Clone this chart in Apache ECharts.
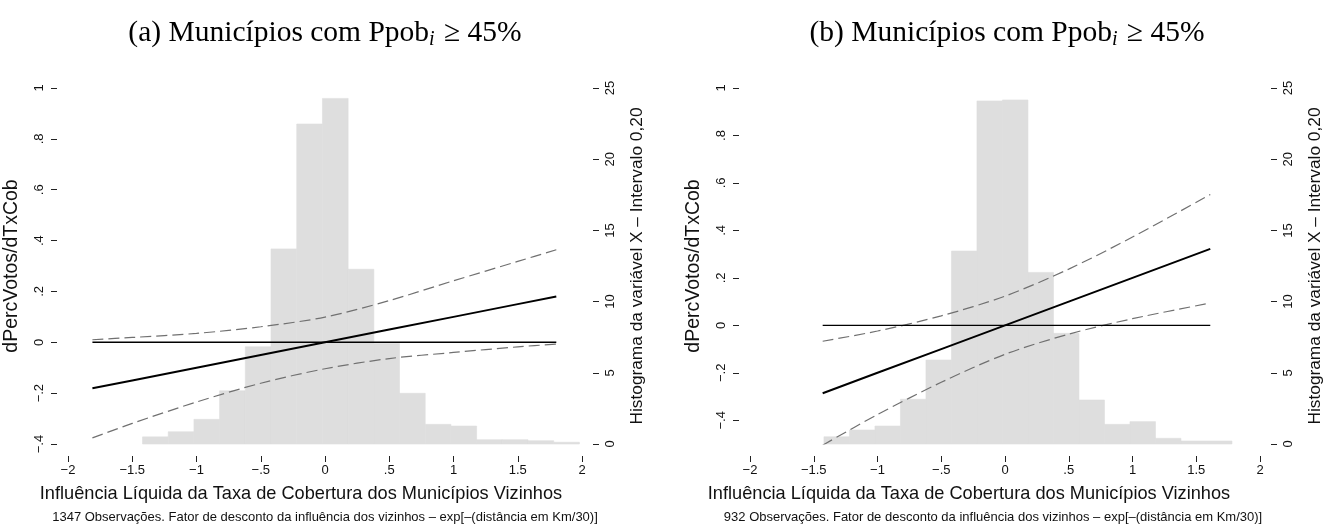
<!DOCTYPE html>
<html>
<head>
<meta charset="utf-8">
<script src="https://cdn.jsdelivr.net/npm/echarts@6/dist/echarts.min.js"></script>
<style>
html,body{margin:0;padding:0;background:#fff;}
#chart{width:1325px;height:527px;}
</style>
</head>
<body>
<div id="chart"></div>
<script>
// ---------- DATA ----------
// Panel (a)
const histLeftEdgesA = [-1.42,-1.22,-1.02,-0.82,-0.62,-0.42,-0.22,-0.02,0.18,0.38,0.58,0.78,0.98,1.18,1.38,1.58,1.78];
const histPctA       = [0.5,0.86,1.73,3.74,6.83,13.7,22.47,24.27,12.27,7.05,3.56,1.38,1.26,0.3,0.3,0.23,0.12];
const lineXA   = [-1.81,-1.5,-1,-0.5,0,0.5,1,1.5,1.8];
const effectA  = [-0.181,-0.15,-0.1,-0.05,0,0.05,0.1,0.15,0.18];
const upperA   = [0.010,0.019,0.035,0.061,0.099,0.164,0.242,0.318,0.364];
const lowerA   = [-0.376,-0.319,-0.235,-0.161,-0.104,-0.064,-0.040,-0.018,-0.007];
const zeroXA   = [-1.81,1.8];

// Panel (b)
const histLeftEdgesB = [-1.42,-1.22,-1.02,-0.82,-0.62,-0.42,-0.22,-0.02,0.18,0.38,0.58,0.78,0.98,1.18,1.38,1.58];
const histPctB       = [0.51,0.98,1.26,3.14,5.9,13.55,24.09,24.16,12.05,7.77,3.09,1.38,1.57,0.4,0.21,0.21];
const lineXB   = [-1.43,-1,-0.5,0,0.5,1,1.61];
const effectB  = [-0.286,-0.2,-0.1,0,0.1,0.2,0.322];
const upperB   = [-0.067,-0.024,0.040,0.123,0.237,0.372,0.551];
const lowerB   = [-0.505,-0.376,-0.240,-0.122,-0.037,0.028,0.094];
const zeroXB   = [-1.43,1.61];

const binWidth = 0.2;
const xTicks = [-2,-1.5,-1,-0.5,0,0.5,1,1.5,2];
const yLeftTicks = [-0.4,-0.2,0,0.2,0.4,0.6,0.8,1];
const yRightTicks = [0,5,10,15,20,25];

const titleA = '(a) Municípios com Ppob';
const titleB = '(b) Municípios com Ppob';
const titleSuffix = ' ≥ 45%';
const xTitle = 'Influência Líquida da Taxa de Cobertura dos Municípios Vizinhos';
const yTitle = 'dPercVotos/dTxCob';
const y2Title = 'Histograma da variável X – Intervalo 0,20';
const noteA = '1347 Observações. Fator de desconto da influência dos vizinhos – exp[–(distância em Km/30)]';
const noteB = '932 Observações. Fator de desconto da influência dos vizinhos – exp[–(distância em Km/30)]';

// ---------- HELPERS ----------
const SANS = '"Liberation Sans", Arial, sans-serif';
function fmt(v){
  if (Math.abs(v) < 1e-9) return '0';
  let s = String(Math.round(Math.abs(v)*10)/10);
  if (s.startsWith('0.')) s = s.slice(1);
  return (v < 0 ? '−' : '') + s;
}
function zip(xs, ys){ return xs.map((x,i)=>[x, ys[i]]); }
function histData(edges, vals){ return edges.map((e,i)=>[e, e+binWidth, vals[i]]); }

const tickStyle = {show:true, inside:false, length:6, lineStyle:{color:'#222', width:1}};
function xAxis(grid){
  return {type:'value', gridIndex:grid, min:-2, max:2, position:'bottom', offset:12,
    axisLine:{show:false, onZero:false}, splitLine:{show:false},
    axisTick:Object.assign({}, tickStyle, {customValues:xTicks}),
    axisLabel:{customValues:xTicks, formatter:fmt, fontSize:13, color:'#111', fontFamily:SANS, margin:8}};
}
function yLeft(grid, min){
  return {type:'value', gridIndex:grid, min:min, max:1, position:'left', offset:11,
    axisLine:{show:false, onZero:false}, splitLine:{show:false},
    axisTick:Object.assign({}, tickStyle, {customValues:yLeftTicks}),
    axisLabel:{customValues:yLeftTicks, formatter:fmt, rotate:90, fontSize:13, color:'#111', fontFamily:SANS, margin:11},
    name:yTitle, nameLocation:'middle', nameRotate:90, nameGap:35,
    nameTextStyle:{fontSize:19.5, color:'#111', fontFamily:SANS}};
}
function yRight(grid){
  return {type:'value', gridIndex:grid, min:0, max:25, position:'right', offset:11,
    axisLine:{show:false, onZero:false}, splitLine:{show:false},
    axisTick:Object.assign({}, tickStyle, {customValues:yRightTicks}),
    axisLabel:{customValues:yRightTicks, rotate:90, fontSize:13, color:'#111', fontFamily:SANS, margin:11},
    name:y2Title, nameLocation:'middle', nameRotate:90, nameGap:36,
    nameTextStyle:{fontSize:17.3, color:'#111', fontFamily:SANS}};
}
function histSeries(xi, yi, data){
  return {type:'custom', xAxisIndex:xi, yAxisIndex:yi, data:data, z:1,
    encode:{x:[0,1], y:2},
    renderItem:function(params, api){
      const p0 = api.coord([api.value(0), api.value(2)]);
      const p1 = api.coord([api.value(1), 0]);
      return {type:'rect', shape:{x:p0[0], y:p0[1], width:p1[0]-p0[0], height:p1[1]-p0[1]},
        style:{fill:'#dedede', stroke:'#dedede', lineWidth:0.6}};
    }};
}
function lineS(xi, yi, data, opt){
  return Object.assign({type:'line', xAxisIndex:xi, yAxisIndex:yi, data:data, symbol:'none', z:3,
    lineStyle:{color:'#000', width:1.5}}, opt||{});
}
const dashStyle = {color:'#707070', width:1.2, type:[11,5]};
const subRich = {sub:{fontFamily:'"Liberation Serif", serif', fontStyle:'italic', fontSize:20, padding:[14,2,0,0]}};
const titleFont = '29.5px "Liberation Serif", "Times New Roman", serif';

const chart = echarts.init(document.getElementById('chart'), null, {renderer:'canvas'});
chart.setOption({
  animation:false,
  backgroundColor:'#fff',
  grid:[
    {left:68, top:88, width:514, height:356},
    {left:750, top:88, width:512, height:356}
  ],
  xAxis:[xAxis(0), xAxis(1)],
  yAxis:[yLeft(0,-0.4), yRight(0), yLeft(1,-0.5), yRight(1)],
  series:[
    histSeries(0,1,histData(histLeftEdgesA, histPctA)),
    lineS(0,0,zip(lineXA, upperA), {smooth:0.3, lineStyle:dashStyle}),
    lineS(0,0,zip(lineXA, lowerA), {smooth:0.3, lineStyle:dashStyle}),
    lineS(0,0,zip(zeroXA, [0,0]), {lineStyle:{color:'#000', width:1.4}}),
    lineS(0,0,zip(lineXA, effectA), {lineStyle:{color:'#000', width:2}}),
    histSeries(1,3,histData(histLeftEdgesB, histPctB)),
    lineS(1,2,zip(lineXB, upperB), {smooth:0.3, lineStyle:dashStyle}),
    lineS(1,2,zip(lineXB, lowerB), {smooth:0.3, lineStyle:dashStyle}),
    lineS(1,2,zip(zeroXB, [0,0]), {lineStyle:{color:'#000', width:1.4}}),
    lineS(1,2,zip(lineXB, effectB), {lineStyle:{color:'#000', width:2}})
  ],
  graphic:[
    {type:'text', x:325, y:33, style:{text:titleA+'{sub|i}'+titleSuffix, textAlign:'center', textVerticalAlign:'middle',
      font:titleFont, fill:'#000', rich:subRich}},
    {type:'text', x:1007, y:33, style:{text:titleB+'{sub|i}'+titleSuffix, textAlign:'center', textVerticalAlign:'middle',
      font:titleFont, fill:'#000', rich:subRich}},
    {type:'text', x:301, y:494, style:{text:xTitle, textAlign:'center', textVerticalAlign:'middle', font:'18.2px '+SANS, fill:'#111'}},
    {type:'text', x:969, y:494, style:{text:xTitle, textAlign:'center', textVerticalAlign:'middle', font:'18.2px '+SANS, fill:'#111'}},
    {type:'text', x:325, y:517, style:{text:noteA, textAlign:'center', textVerticalAlign:'middle', font:'13px '+SANS, fill:'#111'}},
    {type:'text', x:993, y:517, style:{text:noteB, textAlign:'center', textVerticalAlign:'middle', font:'13px '+SANS, fill:'#111'}}
  ]
});
</script>
</body>
</html>
